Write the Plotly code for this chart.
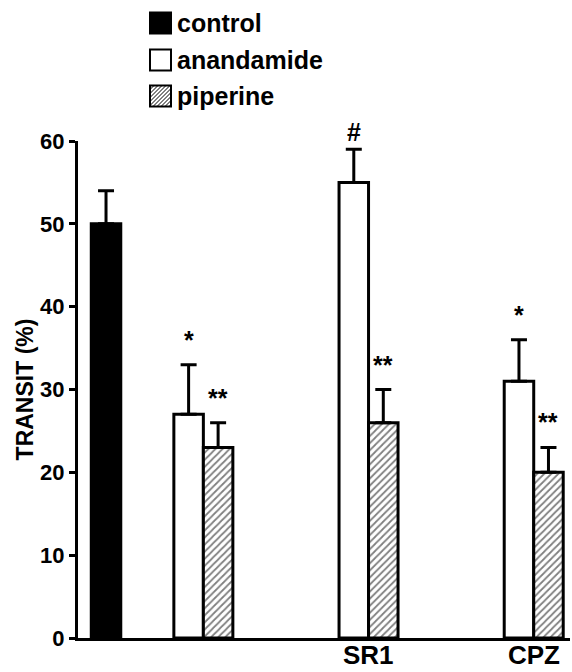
import plotly.graph_objects as go

# ---------------- data ----------------
series_names = ["control", "anandamide", "piperine"]
group_labels = ["", "SR1", "CPZ"]
control_value = [50]
control_err = [4]
anandamide_values = [27, 55, 31]
anandamide_err = [6, 4, 5]
piperine_values = [23, 26, 20]
piperine_err = [3, 4, 3]
anandamide_marks = ["*", "#", "*"]
piperine_marks = ["**", "**", "**"]
y_ticks = [0, 10, 20, 30, 40, 50, 60]

# ---------------- layout constants ----------------
W, H = 572, 672
ML, MR, MT, MB = 78, 2, 141, 34
control_pos = 0.95
first_group = 4.25
group_step = 5.6
x_max = 16.68
bar_w = 1.0
FONT = "Liberation Sans, Arial, sans-serif"

group_centers = [first_group + i * group_step for i in range(len(group_labels))]
anand_x = [c - bar_w / 2 for c in group_centers]
pip_x = [c + bar_w / 2 for c in group_centers]

fig = go.Figure()

err_style = dict(type="data", symmetric=False, color="black", thickness=3, width=8)

fig.add_trace(go.Bar(
    x=[control_pos], y=control_value, width=bar_w, name=series_names[0],
    marker=dict(color="black", line=dict(color="black", width=3)),
    error_y=dict(array=control_err, arrayminus=[0] * len(control_err), **err_style),
    showlegend=False,
))
fig.add_trace(go.Bar(
    x=anand_x, y=anandamide_values, width=bar_w, name=series_names[1],
    marker=dict(color="white", line=dict(color="black", width=3)),
    error_y=dict(array=anandamide_err, arrayminus=[0] * len(anandamide_err), **err_style),
    showlegend=False,
))
fig.add_trace(go.Bar(
    x=pip_x, y=piperine_values, width=bar_w, name=series_names[2],
    marker=dict(color="white", line=dict(color="black", width=3),
                pattern=dict(shape="/", fgcolor="black", bgcolor="white", size=5, solidity=0.35)),
    error_y=dict(array=piperine_err, arrayminus=[0] * len(piperine_err), **err_style),
    showlegend=False,
))

annotations = []
for xs, vals, errs, marks in [(anand_x, anandamide_values, anandamide_err, anandamide_marks),
                              (pip_x, piperine_values, piperine_err, piperine_marks)]:
    for x, v, e, m in zip(xs, vals, errs, marks):
        annotations.append(dict(
            x=x, y=v + e, xref="x", yref="y", text=m, showarrow=False,
            yanchor="middle", yshift=(17 if m == "#" else 25),
            font=dict(family=FONT, size=25, color="black", weight="bold"),
        ))

# group labels under the x axis
for c, lab in zip(group_centers, group_labels):
    if lab:
        annotations.append(dict(
            x=c, y=0, xref="x", yref="paper", text=lab, showarrow=False,
            xanchor="center", yanchor="middle", yshift=-17,
            font=dict(family=FONT, size=26, color="black", weight="bold"),
        ))

# ---------------- manual legend ----------------
pw, ph = W - ML - MR, H - MT - MB


def px_x(p):
    return (p - ML) / pw


def px_y(p):
    return (H - MB - p) / ph


shapes = []
sq = 21
leg_x0 = 150
row_centers = [23, 60, 96]
for i, (name, cy) in enumerate(zip(series_names, row_centers)):
    top = cy - sq / 2
    fill = "black" if i == 0 else "white"
    if i == 2:
        d = -sq
        while d < sq:
            x0l = max(0, d)
            x1l = min(sq, sq + d)
            if x1l > x0l:
                shapes.append(dict(
                    type="line", xref="paper", yref="paper",
                    x0=px_x(leg_x0 + x0l), y0=px_y(top + sq - (x0l - d)),
                    x1=px_x(leg_x0 + x1l), y1=px_y(top + sq - (x1l - d)),
                    line=dict(color="black", width=1),
                ))
            d += 4
    shapes.append(dict(
        type="rect", xref="paper", yref="paper",
        x0=px_x(leg_x0), x1=px_x(leg_x0 + sq), y0=px_y(top + sq), y1=px_y(top),
        line=dict(color="black", width=2), fillcolor=fill if i != 2 else "rgba(0,0,0,0)",
    ))
    annotations.append(dict(
        x=px_x(leg_x0 + sq + 4), y=px_y(cy), xref="paper", yref="paper",
        text=name, showarrow=False, xanchor="left", yanchor="middle",
        font=dict(family=FONT, size=25, color="black", weight="bold"),
    ))

fig.update_layout(
    width=W, height=H,
    margin=dict(l=ML, r=MR, t=MT, b=MB, pad=0, autoexpand=False),
    plot_bgcolor="white", paper_bgcolor="white",
    barmode="overlay",
    shapes=shapes,
    annotations=annotations,
    xaxis=dict(
        range=[0, x_max], showgrid=False, zeroline=False, automargin=False,
        showline=True, linecolor="black", linewidth=3,
        showticklabels=False, ticks="",
    ),
    yaxis=dict(
        range=[0, 60], showgrid=False, zeroline=False, automargin=False,
        showline=True, linecolor="black", linewidth=3,
        tickmode="array", tickvals=y_ticks,
        ticks="outside", ticklen=6, tickwidth=3, tickcolor="black",
        tickfont=dict(family=FONT, size=22, color="black", weight="bold"),
        title=dict(text="TRANSIT (%)", standoff=1,
                   font=dict(family=FONT, size=23, color="black", weight="bold")),
    ),
)

fig.write_html(
    "out.html",
    config={"displayModeBar": False},
    post_script="document.body.style.margin='0';document.body.style.overflow='hidden';",
)
